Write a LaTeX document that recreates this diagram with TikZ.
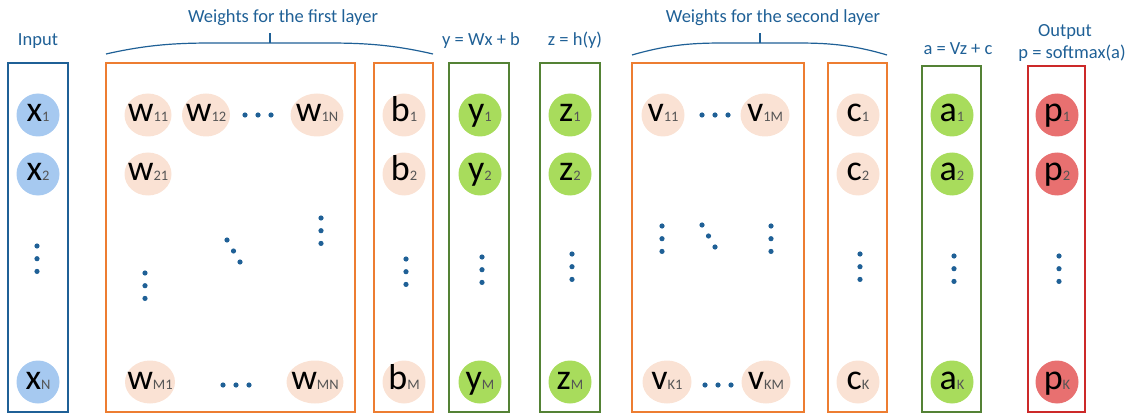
\documentclass[tikz,border=0pt]{standalone}
\usepackage{fontspec}
\setmainfont{Carlito}
\usepackage{tikz}
\usetikzlibrary{shapes.geometric}

\definecolor{dkblue}{RGB}{31,96,150}
\definecolor{orangeln}{RGB}{237,125,49}
\definecolor{greenln}{RGB}{84,130,53}
\definecolor{redln}{RGB}{204,41,41}
\definecolor{bluefill}{RGB}{166,201,240}
\definecolor{peach}{RGB}{250,226,212}
\definecolor{greenfill}{RGB}{168,220,92}
\definecolor{redfill}{RGB}{232,112,112}
\definecolor{subgray}{RGB}{85,85,85}

\newcommand{\ix}[1]{{\fontsize{14.5}{14.5}\selectfont\color{subgray}#1}}
% three dots down a column, and three along the diagonal
\newcommand{\coldots}[2]{\fill[dkblue] (#1,#2) circle (2.6) (#1,#2+12.7) circle (2.6) (#1,#2+25.4) circle (2.6);}
\newcommand{\rowdots}[2]{\fill[dkblue] (#1,#2) circle (2.6) (#1+13,#2) circle (2.6) (#1+26,#2) circle (2.6);}
\newcommand{\diagdots}[2]{\fill[dkblue] (#1,#2) circle (2.6) (#1+6.5,#2+11) circle (2.6) (#1+13,#2+22) circle (2.6);}

\begin{document}
\begin{tikzpicture}[x=1pt, y=-1pt, line width=2pt,
    cell/.style = {ellipse, inner sep=0pt, minimum height=43pt, minimum width=43pt,
                   text height=14pt, text depth=0pt, font=\fontsize{36}{36}\selectfont},
    xin/.style = {cell, fill=bluefill},
    wt/.style = {cell, fill=peach, inner xsep=-8pt},
    act/.style = {cell, fill=greenfill},
    outp/.style = {cell, fill=redfill},
    lbl/.style = {anchor=base, text=dkblue, font=\fontsize{18.5}{20}\selectfont, inner sep=0pt}]
    \useasboundingbox (0,0) rectangle (1134,414);

    % Boxes
    \draw[dkblue] (8,63) rectangle (68,412);
    \draw[orangeln] (106,63) rectangle (355,412);
    \draw[orangeln] (374,63) rectangle (433,412);
    \draw[greenln] (449,63) rectangle (509,412);
    \draw[greenln] (540,63) rectangle (600,412);
    \draw[orangeln] (632,63) rectangle (804,412);
    \draw[orangeln] (828,63) rectangle (887,412);
    \draw[greenln] (922,66) rectangle (981,412);
    \draw[redln] (1028,66) rectangle (1085,412);

    % Braces
    \draw[dkblue, line width=1.2pt] (106,54) .. controls (150,44) and (180,43) .. (215,43) -- (325,43)
        .. controls (360,43) and (390,44) .. (433,54);
    \draw[dkblue, line width=1.2pt] (270,43) -- (270,33);
    \draw[dkblue, line width=1.2pt] (632,55) .. controls (670,44) and (695,43) .. (725,43) -- (795,43)
        .. controls (825,43) and (850,44) .. (887,55);
    \draw[dkblue, line width=1.2pt] (760,43) -- (760,33);

    % Labels
    \node[lbl] (lw1) at (283,23) {Weights for the first layer};
    \node[lbl] (lw2) at (773,23) {Weights for the second layer};
    \node[lbl] (lin) at (38,46) {Input};
    \node[lbl] (ly) at (481,46) {y = Wx + b};
    \node[lbl] (lz) at (575,46) {z = h(y)};
    \node[lbl] (la) at (958,55) {a = Vz + c};
    \node[lbl] (lout) at (1065,37) {Output};
    \node[lbl] (lp) at (1072,59) {p = softmax(a)};

    % Nodes
    \node[xin] (x1) at (38,115) {x\ix{1}};
    \node[xin] (x2) at (38,174) {x\ix{2}};
    \node[xin] (xN) at (38,382) {x\ix{N}};

    \node[wt, minimum width=47pt] (w11) at (148,115) {w\ix{11}};
    \node[wt, minimum width=48pt] (w12) at (206,115) {w\ix{12}};
    \node[wt, minimum width=53pt] (w1N) at (317,115) {w\ix{1N}};
    \node[wt, minimum width=47pt] (w21) at (148,174) {w\ix{21}};
    \node[wt, minimum width=50pt] (wM1) at (150,382) {w\ix{M1}};
    \node[wt, minimum width=57pt] (wMN) at (315,382) {w\ix{MN}};

    \node[wt] (b1) at (404,115) {b\ix{1}};
    \node[wt] (b2) at (404,174) {b\ix{2}};
    \node[wt] (bM) at (404,382) {b\ix{M}};

    \node[act] (y1) at (480,115) {y\ix{1}};
    \node[act] (y2) at (480,174) {y\ix{2}};
    \node[act] (yM) at (480,382) {y\ix{M}};

    \node[act] (z1) at (570,115) {z\ix{1}};
    \node[act] (z2) at (570,174) {z\ix{2}};
    \node[act] (zM) at (570,382) {z\ix{M}};

    \node[wt] (v11) at (663,115) {v\ix{11}};
    \node[wt, minimum width=49pt] (v1M) at (765,115) {v\ix{1M}};
    \node[wt, minimum width=49pt] (vK1) at (667,382) {v\ix{K1}};
    \node[wt, minimum width=49pt] (vKM) at (766,382) {v\ix{KM}};

    \node[wt] (c1) at (858,115) {c\ix{1}};
    \node[wt] (c2) at (858,174) {c\ix{2}};
    \node[wt] (cK) at (858,382) {c\ix{K}};

    \node[act] (a1) at (952,115) {a\ix{1}};
    \node[act] (a2) at (952,174) {a\ix{2}};
    \node[act] (aK) at (952,382) {a\ix{K}};

    \node[outp] (p1) at (1057,115) {p\ix{1}};
    \node[outp] (p2) at (1057,174) {p\ix{2}};
    \node[outp] (pK) at (1057,382) {p\ix{K}};

    % Dots
    \coldots{37}{246}
    \rowdots{245}{115}
    \rowdots{223}{385}
    \coldots{145}{273}
    \diagdots{227}{240}
    \coldots{321}{218}
    \coldots{406}{259}
    \coldots{482}{257}
    \coldots{572}{254}
    \rowdots{702}{115}
    \rowdots{705}{385}
    \coldots{662}{226}
    \diagdots{702}{225}
    \coldots{771}{226}
    \coldots{860}{254}
    \coldots{954}{256}
    \coldots{1059}{256}

\end{tikzpicture}
\end{document}
